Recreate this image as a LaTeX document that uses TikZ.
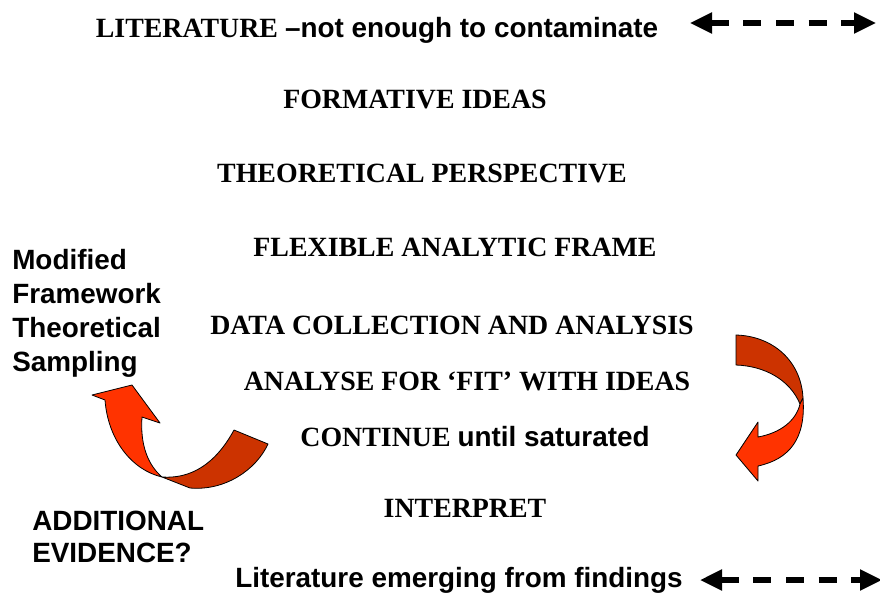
\documentclass[tikz,border=0pt]{standalone}
\usepackage{fontspec}
\setmainfont{Liberation Serif}
\setsansfont{Liberation Sans}
\usetikzlibrary{arrows.meta}
\definecolor{backred}{HTML}{CC3300}
\definecolor{frontred}{HTML}{FF3300}
\tikzset{
  caps/.style={font=\rmfamily\bfseries\fontsize{20.9}{25}\selectfont,inner sep=0pt,anchor=base},
  plain/.style={font=\sffamily\bfseries\fontsize{20.9}{25.5}\selectfont,inner sep=0pt,anchor=base west,align=left},
  backside/.style={fill=backred,draw=black,line width=0.6pt,line join=round},
  frontside/.style={fill=frontred,draw=black,line width=0.6pt,line join=round},
  litarrow/.style={line width=3.8pt,dash pattern=on 13.5pt off 11pt,
    {Triangle[length=16.5pt,width=15pt]}-{Triangle[length=16.5pt,width=15pt]}}
}
\begin{document}
\begin{tikzpicture}[x=0.75pt,y=-0.75pt]
\useasboundingbox (0,0) rectangle (880,594);

% the stages, top to bottom
\node[caps] (lit) at (377,37) {LITERATURE {\sffamily –not enough to contaminate}};
\node[caps] (form) at (415,108) {FORMATIVE IDEAS};
\node[caps] (theo) at (422,182) {THEORETICAL PERSPECTIVE};
\node[caps] (flex) at (455,256) {FLEXIBLE ANALYTIC FRAME};
\node[caps] (data) at (452,334) {DATA COLLECTION AND ANALYSIS};
\node[caps] (fit) at (467,390) {ANALYSE FOR ‘FIT’ WITH IDEAS};
\node[caps] (cont) at (475,446) {CONTINUE {\sffamily until saturated}};
\node[caps] (interp) at (465,517) {INTERPRET};
\node[caps,font=\sffamily\bfseries\fontsize{20.9}{25}\selectfont] (emerg) at (459,587) {Literature emerging from findings};

% side notes (anchored on their last line)
\node[plain] (modif) at (12,371) {Modified\\Framework\\Theoretical\\Sampling};
\node[plain,font=\sffamily\bfseries\fontsize{20.9}{24}\selectfont] (addev) at (32,562) {ADDITIONAL\\EVIDENCE?};

% literature in and out
\coordinate (litL) at (690,23);
\coordinate (litR) at (876,23);
\coordinate (emL) at (700,580);
\coordinate (emR) at (882,580);
\draw[litarrow] (litL) -- (litR);
\draw[litarrow] (emL) -- (emR);

% right arrow, curling down
\draw[backside] (736,335) .. controls (772,336) and (801,360) .. (803,398)
  -- (800,404) .. controls (790,380) and (765,366) .. (736,365) -- cycle;
\draw[frontside] (800,404) .. controls (796,421) and (780,433) .. (758,437)
  -- (758,422) -- (736,455) -- (758,481) -- (758,466)
  .. controls (790,459) and (806,438) .. (803,398) -- cycle;

% left arrow, curling up
\draw[backside] (234,430) .. controls (215,465) and (190,479) .. (162,477)
  -- (190,488) .. controls (225,491) and (256,470) .. (268,444) -- cycle;
\draw[frontside] (162,477) .. controls (132,470) and (108,440) .. (105,400)
  -- (92,395) -- (132,385) -- (160,423) -- (142,417)
  .. controls (140,445) and (148,465) .. (162,477) -- cycle;
\end{tikzpicture}
\end{document}
